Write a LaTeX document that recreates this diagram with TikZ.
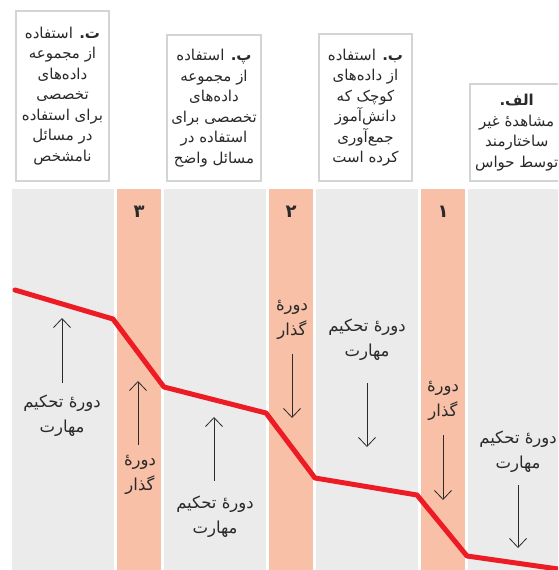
\documentclass[tikz,border=0pt]{standalone}
\usepackage{fontspec}
\usetikzlibrary{arrows.meta}
\TeXXeTstate=1
\newfontfamily\fa[Script=Arabic]{DejaVu Sans}
\newcommand\rl[1]{\beginR #1\endR}
\definecolor{colgray}{HTML}{EBEBEB}
\definecolor{colorange}{HTML}{F9C0A8}
\definecolor{redline}{HTML}{ED1C24}
\definecolor{boxborder}{HTML}{D4D4D4}
\definecolor{txt}{HTML}{2A2A2A}
\tikzset{
  colg/.style={fill=colgray},
  colo/.style={fill=colorange},
  infobox/.style={draw=boxborder, line width=2.4pt, fill=white, align=center,
    font=\fa\fontsize{15}{20.5}\selectfont, text=txt, inner sep=0pt},
  lab/.style={align=center, font=\fa\fontsize{16.5}{25}\selectfont, text=txt, inner sep=0pt},
  num/.style={font=\fa\bfseries\fontsize{18}{18}\selectfont, text=txt, inner sep=0pt},
  arr/.style={draw=txt, line width=0.8pt, -{Straight Barb[length=9pt,width=17pt]}},
  curve/.style={draw=redline, line width=5pt, line cap=round, line join=round}
}
\begin{document}
\begin{tikzpicture}[x=1pt, y=-1pt]
\useasboundingbox (0,0) rectangle (558,570);
\clip (0,0) rectangle (558,570);
% columns
\fill[colg] (12,189) rectangle (114,575);
\fill[colo] (117,189) rectangle (161,575);
\fill[colg] (164,189) rectangle (266,575);
\fill[colo] (269,189) rectangle (313,575);
\fill[colg] (316,189) rectangle (418,575);
\fill[colo] (421,189) rectangle (465,575);
\fill[colg] (468,189) rectangle (570,575);
% boxes
\node[infobox, minimum width=92.6pt, minimum height=169.6pt] (bt) at (62.5,96)
  {\rl{{\bfseries ت.} استفاده}\\\rl{از مجموعه}\\\rl{داده^^^^200cهای}\\\rl{تخصصی}\\\rl{برای استفاده}\\\rl{در مسائل}\\\rl{نامشخص}};
\node[infobox, minimum width=93.6pt, minimum height=145.6pt] (bp) at (214,108)
  {\rl{{\bfseries پ.} استفاده}\\\rl{از مجموعه}\\\rl{داده^^^^200cهای}\\\rl{تخصصی برای}\\\rl{استفاده در}\\\rl{مسائل واضح}};
\node[infobox, minimum width=92.6pt, minimum height=146.6pt] (bb) at (365.5,107.5)
  {\rl{{\bfseries ب.} استفاده}\\\rl{از داده^^^^200cهای}\\\rl{کوچک که}\\\rl{دانش^^^^200cآموز}\\\rl{جمع^^^^200cآوری}\\\rl{کرده است}};
\node[infobox, minimum width=93pt, minimum height=96.6pt] (ba) at (516.7,132.5)
  {\rl{\bfseries الف.}\\\rl{مشاهده^^^^0654 غیر}\\\rl{ساختارمند}\\\rl{توسط حواس}};
% numbers
\node[num] (n3) at (139,212) {۳};
\node[num] (n2) at (291,212) {۲};
\node[num] (n1) at (443,212) {۱};
% red curve
\coordinate (p0) at (15,290);
\coordinate (p1) at (113,319);
\coordinate (p2) at (164,387);
\coordinate (p3) at (266,413);
\coordinate (p4) at (315,478);
\coordinate (p5) at (417,495);
\coordinate (p6) at (467,556);
\coordinate (p7) at (565,570);
\draw[curve] (p0) -- (p1) -- (p2) -- (p3) -- (p4) -- (p5) -- (p6) -- (p7);
% labels
\node[lab] (l1) at (62,415.5) {\rl{دوره^^^^0654 تحکیم}\\\rl{مهارت}};
\node[lab] (l2) at (140,474.5) {\rl{دوره^^^^0654}\\\rl{گذار}};
\node[lab] (l3) at (215,516.5) {\rl{دوره^^^^0654 تحکیم}\\\rl{مهارت}};
\node[lab] (l4) at (292,320) {\rl{دوره^^^^0654}\\\rl{گذار}};
\node[lab] (l5) at (367,340) {\rl{دوره^^^^0654 تحکیم}\\\rl{مهارت}};
\node[lab] (l6) at (443,400.5) {\rl{دوره^^^^0654}\\\rl{گذار}};
\node[lab] (l7) at (518,451.5) {\rl{دوره^^^^0654 تحکیم}\\\rl{مهارت}};
% arrow tips
\coordinate (t1) at (62,318);
\coordinate (t2) at (138,381);
\coordinate (t3) at (214,417);
\coordinate (t4) at (292,418);
\coordinate (t5) at (367,447);
\coordinate (t6) at (443,500);
\coordinate (t7) at (518,548);
\draw[arr] (l1.center) ++(0,-32.5) -- (t1);
\draw[arr] (l2.center) ++(-2,-29.5) -- (t2);
\draw[arr] (l3.center) ++(-1,-35.5) -- (t3);
\draw[arr] (l4.center) ++(0,34) -- (t4);
\draw[arr] (l5.center) ++(0,43) -- (t5);
\draw[arr] (l6.center) ++(0,34.5) -- (t6);
\draw[arr] (l7.center) ++(0,33.5) -- (t7);
\end{tikzpicture}
\end{document}
